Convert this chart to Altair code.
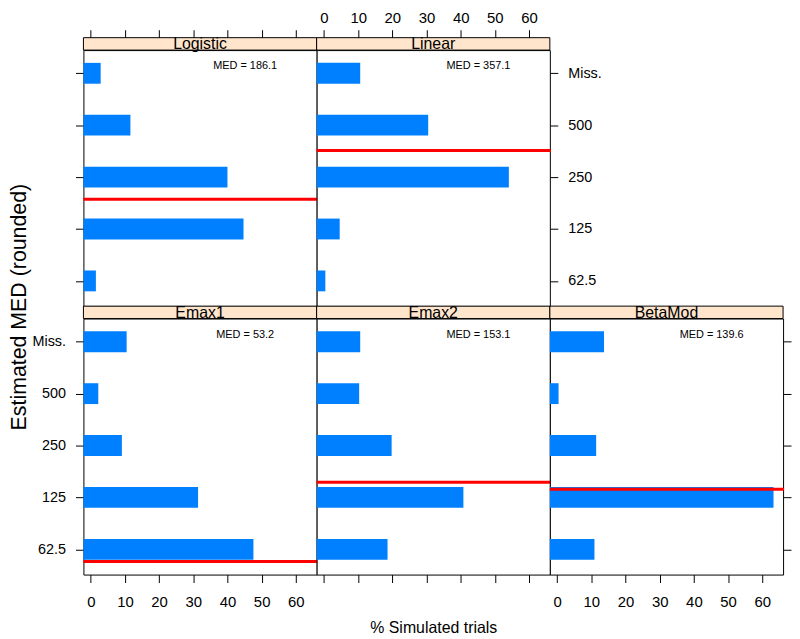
import altair as alt
import pandas as pd

# ---- data ----
models = ["Logistic", "Linear", "Emax1", "Emax2", "BetaMod"]
dose_labels = ["62.5", "125", "250", "500", "Miss."]
dose_pos = [62.5, 125, 250, 500, 1000]  # "Miss." drawn one doubling above 500

pct_logistic = [1.5, 44.7, 40.0, 11.6, 2.9]
pct_linear = [0.4, 4.6, 54.1, 30.5, 10.6]
pct_emax1 = [47.6, 31.4, 9.1, 2.2, 10.5]
pct_emax2 = [18.6, 40.8, 19.8, 10.3, 10.6]
pct_betamod = [10.9, 63.3, 11.4, 0.4, 13.7]

med_values = [186.1, 357.1, 53.2, 153.1, 139.6]
x_ticks = [0, 10, 20, 30, 40, 50, 60]

# ---- styling / layout ----
F = "Liberation Sans"
W, H, SH = 235, 258, 12.5
XDOM = [-2.15, 66.1]
YDOM = [62.5 * 2 ** -0.486, 1000 * 2 ** 0.447]
BAR = "#0080FF"
STRIP = "#FFE5CC"

label_expr = ("[" + ",".join(f"'{l}'" for l in dose_labels) + "][indexof(["
              + ",".join(str(p) for p in dose_pos) + "], datum.value)]")

xscale = alt.Scale(domain=XDOM, nice=False, zero=False, padding=0)
yscale = alt.Scale(type="log", base=2, domain=YDOM, nice=False, padding=0)


def yaxis(orient, labels, title=None):
    kw = dict(orient=orient, values=dose_pos, labels=labels, ticks=True, tickSize=8,
              domain=False, grid=False, labelPadding=10, labelExpr=label_expr,
              labelFontSize=14.5, labelBaseline="middle")
    if title:
        kw.update(title=title, titleX=-64, titleY=-12, titleAngle=270,
                  titleBaseline="middle", titleAlign="center", titleFontSize=21.5,
                  titleFontWeight="normal")
    else:
        kw.update(title=None)
    return alt.Axis(**kw)


def xaxis(orient, labels, title=None):
    kw = dict(orient=orient, values=x_ticks, labels=labels, ticks=True, tickSize=8,
              domain=False, grid=False, labelFontSize=15,
              labelPadding=4 if orient == "top" else 12)
    if orient == "top":
        kw.update(offset=SH)
    if title:
        kw.update(title=title, titleY=53, titleBaseline="middle", titleFontSize=16,
                  titleFontWeight="normal")
    else:
        kw.update(title=None)
    return alt.Axis(**kw)


def panel(name, vals, med, xax, yax):
    df = pd.DataFrame({"dose": dose_pos, "pct": vals})
    mdf = pd.DataFrame({"med": [med], "lab": [f"MED = {med}"], "name": [name]})
    strip_rect = alt.Chart(mdf).mark_rect(fill=STRIP, stroke="black", strokeWidth=1).encode(
        x=alt.value(0), x2=alt.value(W), y=alt.value(-SH), y2=alt.value(0))
    strip_txt = alt.Chart(mdf).mark_text(font=F, fontSize=16, color="black",
                                         baseline="middle", align="center").encode(
        text="name:N", x=alt.value(W / 2), y=alt.value(-SH / 2 + 0.5))
    ykw = dict(scale=yscale)
    ykw["axis"] = yax if yax is not None else None
    bars = alt.Chart(df).mark_bar(color=BAR, size=21, orient="horizontal").encode(
        x=alt.X("pct:Q", scale=xscale, axis=xax),
        x2=alt.datum(XDOM[0]),
        y=alt.Y("dose:Q", **ykw),
    )
    rule = alt.Chart(mdf).mark_rule(color="red", strokeWidth=3).encode(
        y=alt.Y("med:Q", **ykw),
        x=alt.value(0),
        x2=alt.value(W + 1),
    )
    txt = alt.Chart(mdf).mark_text(font=F, fontSize=11, color="black",
                                   baseline="middle", align="center").encode(
        text="lab:N", x=alt.value(163), y=alt.value(16.5)
    )
    return alt.layer(strip_rect, strip_txt, bars, rule, txt).properties(
        width=W, height=H)


blank = alt.Chart(pd.DataFrame({"a": [0]})).mark_point(opacity=0).encode(
    x=alt.value(0), y=alt.value(0)
).properties(width=W, height=H,
             view=alt.ViewBackground(stroke="transparent", fill="transparent"))

charts = [
    panel(models[0], pct_logistic, med_values[0], xaxis("top", False),
          yaxis("left", False)),
    panel(models[1], pct_linear, med_values[1], xaxis("top", True),
          yaxis("right", True)),
    blank,
    panel(models[2], pct_emax1, med_values[2], xaxis("bottom", True),
          yaxis("left", True, "Estimated MED (rounded)")),
    panel(models[3], pct_emax2, med_values[3],
          xaxis("bottom", False, "% Simulated trials"), None),
    panel(models[4], pct_betamod, med_values[4], xaxis("bottom", True),
          yaxis("right", False)),
]

chart = alt.concat(*charts, columns=3, spacing={"row": SH, "column": 0},
                   bounds="flush").properties(
    padding=0
).configure_axis(
    labelFont=F, titleFont=F, labelColor="black", titleColor="black",
    tickColor="black", tickWidth=1,
).configure_view(stroke="black", strokeWidth=1, fill="white")

chart.save("out.html", embed_options={"renderer": "svg", "actions": False})
